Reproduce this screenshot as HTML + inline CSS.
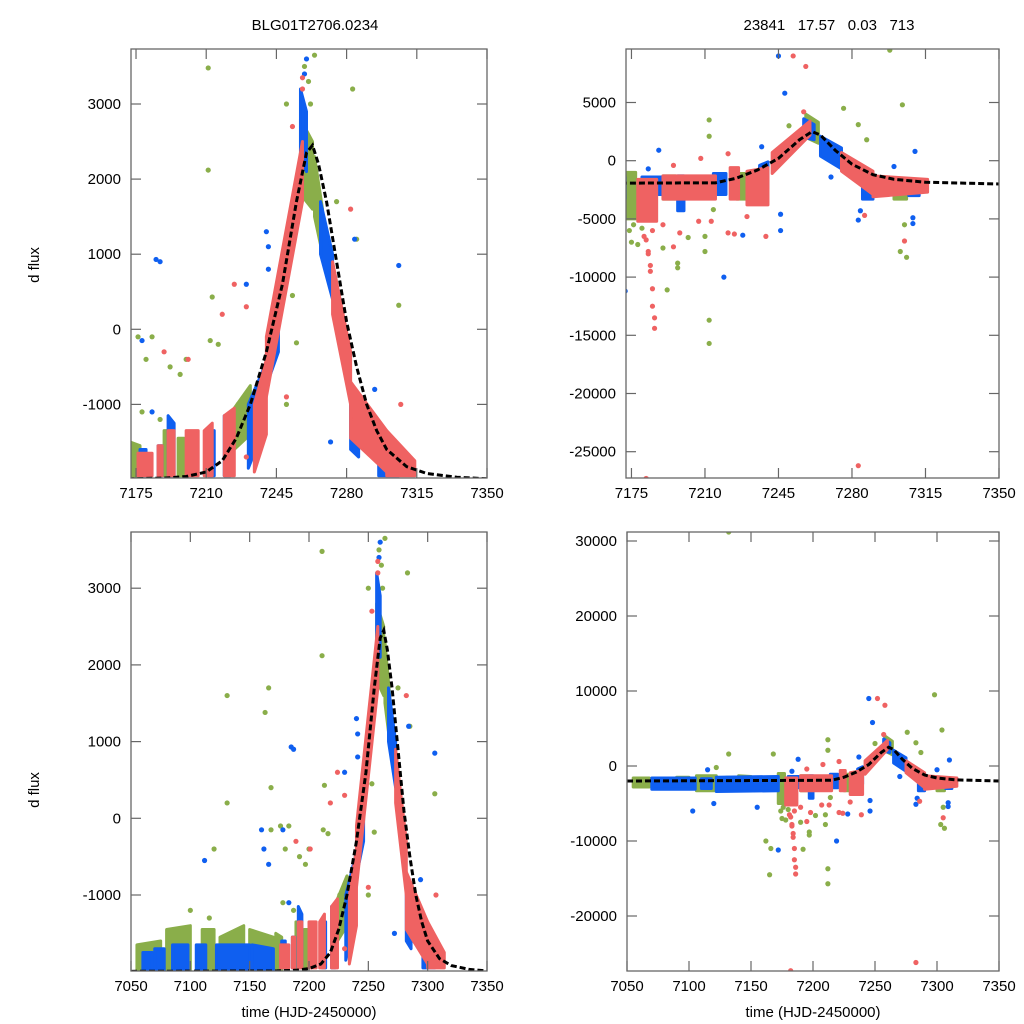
<!DOCTYPE html>
<html><head><meta charset="utf-8">
<style>
html,body{margin:0;padding:0;background:#fff;}
svg{display:block;font-family:"Liberation Sans",sans-serif;}
</style></head>
<body>
<svg id="fig" width="1024" height="1024" viewBox="0 0 1024 1024" xmlns="http://www.w3.org/2000/svg">
<rect width="1024" height="1024" fill="#fff"/>
<text x="315" y="30" font-size="15" text-anchor="middle">BLG01T2706.0234</text>
<text x="829" y="30" font-size="15" text-anchor="middle" xml:space="preserve">23841   17.57   0.03   713</text>
<text transform="translate(39,265) rotate(-90)" font-size="15" text-anchor="middle">d flux</text>
<text transform="translate(39,790) rotate(-90)" font-size="15" text-anchor="middle">d flux</text>
<text x="309" y="1017" font-size="15" text-anchor="middle">time (HJD-2450000)</text>
<text x="813" y="1017" font-size="15" text-anchor="middle">time (HJD-2450000)</text>
</svg>
<script>
// ---------- LEFT DATA (shared by both left panels) ----------
// bands: [t0, t1, lo0, hi0, lo1, hi1]
const leftGreenBands=[[7055,7075,-1990,-1650,-1990,-1600],[7080,7100,-1990,-1450,-1990,-1400],[7110,7120,-1990,-1450,-1990,-1450],[7125,7145,-1990,-1550,-1990,-1400],[7150,7170,-1990,-1450,-1990,-1550],[7172,7177,-1990,-1500,-1990,-1550],[7189,7192,-1950,-1350,-1950,-1350],[7196,7199,-1950,-1450,-1950,-1450],[7224,7232,-1600,-1050,-1400,-750],[7257,7263,1800,2800,1600,2500],[7264,7268,1500,2300,1000,1600]];
const leftBlueBands=[[7060,7068,-1990,-1750,-1990,-1750],[7070,7078,-1990,-1700,-1990,-1700],[7085,7098,-1990,-1650,-1990,-1650],[7105,7113,-1990,-1650,-1990,-1650],[7122,7150,-1990,-1650,-1990,-1650],[7152,7170,-1990,-1650,-1990,-1700],[7177,7180,-1950,-1600,-1950,-1600],[7186,7188,-1950,-1550,-1950,-1550],[7191,7194,-1950,-1150,-1950,-1250],[7211,7214,-1950,-1350,-1950,-1350],[7219,7222,-1950,-1150,-1950,-1250],[7231,7239,-1850,-1000,-1300,-500],[7242,7246,-600,-100,-300,300],[7257,7260,2300,3200,2100,2900],[7267,7273,1000,1700,400,1000],[7282,7286,-1600,-1000,-1700,-1100],[7296,7306,-1950,-1450,-1950,-1550]];
const leftRedBands=[[7176,7183,-1950,-1650,-1950,-1650],[7186,7188,-1950,-1550,-1950,-1550],[7191,7194,-1950,-1350,-1950,-1350],[7200,7206,-1950,-1350,-1950,-1350],[7209,7213,-1950,-1350,-1950,-1250],[7219,7224,-1950,-1150,-1950,-1050],[7234,7240,-1900,-1000,-1400,-400],[7240,7258,-900,-100,1700,2500],[7273,7282,200,900,-1000,-300],[7282,7300,-1450,-700,-1900,-1350],[7300,7314,-1950,-1350,-1950,-1750]];
const leftGreenDots=[[7211,3480],[7211,2120],[7264,3650],[7283,3200],[7250,3000],[7275,1700],[7285,1200],[7306,320],[7213,430],[7176,-100],[7183,-100],[7178,-1100],[7187,-1200],[7197,-600],[7200,-400],[7216,-200],[7226,-1000],[7253,450],[7131,-1550],[7166,1700],[7163,1380],[7131,1600],[7131,200],[7120,-400],[7116,-1300],[7100,-1200],[7168,-150],[7168,400],[7180,-400],[7192,-500],[7212,-150],[7250,-1000],[7255,-180],[7261,3300],[7262,3000],[7259,3500]];
const leftBlueDots=[[7185,930],[7178,-150],[7183,-1100],[7240,1300],[7241,1100],[7241,800],[7284,1200],[7306,850],[7294,-800],[7272,-1500],[7260,3600],[7160,-150],[7112,-550],[7162,-400],[7166,-600],[7187,900],[7287,-1400],[7230,600],[7259,3400]];
const leftRedDots=[[7224,600],[7218,200],[7230,300],[7189,-300],[7201,-400],[7282,1600],[7258,3350],[7284,-1200],[7307,-1000],[7250,-900],[7230,-1700],[7253,2700],[7258,3200]];
const leftModel=[[7050,-1995],[7173,-1990],[7190,-1980],[7200,-1960],[7210,-1900],[7218,-1750],[7225,-1450],[7232,-1000],[7240,-300],[7248,600],[7255,1700],[7260,2350],[7263,2450],[7266,2200],[7270,1700],[7275,900],[7280,100],[7285,-500],[7290,-1000],[7295,-1350],[7300,-1600],[7310,-1830],[7320,-1920],[7335,-1970],[7350,-1990]];
// ---------- RIGHT DATA (shared by both right panels) ----------
const rightGreenBands=[[7055,7068,-2800,-1600,-2800,-1600],[7090,7100,-2500,-1500,-2500,-1500],[7106,7122,-3300,-1300,-3300,-1300],[7130,7138,-2800,-1500,-2800,-1500],[7140,7150,-2900,-1300,-2900,-1400],[7172,7177,-5000,-1000,-5000,-1000],[7190,7196,-3300,-1300,-3300,-1300],[7225,7232,-3300,-1100,-3300,-1100],[7258,7264,2000,4000,1500,3300],[7300,7306,-3300,-1600,-3300,-1600]];
const rightBlueBands=[[7070,7105,-3100,-1600,-3100,-1600],[7110,7118,-3000,-1700,-3000,-1700],[7122,7172,-3400,-1500,-3300,-1400],[7180,7190,-2900,-1400,-2900,-1400],[7197,7200,-4300,-1300,-4300,-1300],[7214,7220,-2900,-1100,-2900,-1100],[7236,7240,-2400,-400,-2400,-100],[7257,7262,2000,3600,1800,3100],[7265,7275,400,2100,-700,1100],[7285,7290,-3300,-1600,-3300,-1600],[7307,7312,-3000,-1600,-3000,-1600]];
const rightRedBands=[[7178,7187,-5200,-1600,-5200,-1600],[7190,7215,-3300,-1300,-3300,-1300],[7222,7226,-3300,-600,-3300,-600],[7230,7240,-3800,-900,-3800,-600],[7242,7260,-1100,700,2200,3400],[7275,7290,-900,700,-2900,-900],[7290,7316,-3100,-1300,-2700,-1600]];
const rightGreenDots=[[7132,31200],[7298,9500],[7304,4800],[7276,4500],[7283,3100],[7287,1800],[7250,3000],[7212,3500],[7212,2100],[7168,1600],[7132,1600],[7122,-200],[7212,-13700],[7212,-15700],[7165,-14500],[7162,-10000],[7166,-11000],[7192,-11100],[7197,-8800],[7197,-9200],[7190,-7500],[7175,-7000],[7178,-7200],[7202,-6600],[7210,-7800],[7306,-8300],[7303,-7800],[7305,-5500],[7180,-5800],[7210,-6500],[7214,-4200],[7174,-6000],[7176,-5500]];
const rightBlueDots=[[7245,9000],[7248,5800],[7246,-4600],[7246,-6000],[7219,-10000],[7172,-11200],[7103,-6000],[7155,-5500],[7188,900],[7237,1200],[7300,-500],[7310,800],[7283,-5100],[7309,-5400],[7309,-4900],[7228,-6400],[7284,-4300],[7270,-1400],[7183,-700],[7120,-5000],[7115,-500]];
const rightRedDots=[[7182,-6800],[7183,-8000],[7184,-9500],[7185,-11000],[7185,-12500],[7186,-13500],[7186,-14400],[7183,-7800],[7184,-9000],[7181,-6500],[7185,-6000],[7182,-27300],[7283,-26200],[7252,9000],[7258,8100],[7257,4200],[7224,-6300],[7221,-6200],[7213,-5200],[7207,-5200],[7198,-6200],[7195,-7400],[7190,-5500],[7230,-4800],[7239,-6500],[7286,-4700],[7305,-6900],[7221,600],[7195,-400],[7208,200]];
const rightModel=[[7050,-2000],[7215,-1900],[7225,-1500],[7235,-800],[7245,200],[7255,1800],[7261,2500],[7265,2200],[7272,900],[7280,-300],[7290,-1200],[7300,-1600],[7315,-1850],[7350,-2000]];
// ---------- TICKS ----------
const xTicksTop=[7175,7210,7245,7280,7315,7350];
const xTicksBottom=[7050,7100,7150,7200,7250,7300,7350];
const yTicksTL=[-1000,0,1000,2000,3000];
const yTicksTR=[-25000,-20000,-15000,-10000,-5000,0,5000];
const yTicksBL=[-1000,0,1000,2000,3000];
const yTicksBR=[-20000,-10000,0,10000,20000,30000];

const NS='http://www.w3.org/2000/svg';
const svg=document.getElementById('fig');
const COL={g:'#8aae4a',b:'#0f5ff0',r:'#ef6262'};
function mk(tag,attrs,parent){const e=document.createElementNS(NS,tag);for(const k in attrs)e.setAttribute(k,attrs[k]);parent.appendChild(e);return e;}

const panels=[
 {id:'top-left',px0:131,px1:487,t0:7172.5,t1:7350,y0:329.3,k:0.0751,pyTop:49,pyBot:478,xt:xTicksTop,yt:yTicksTL,side:'left'},
 {id:'top-right',px0:626,px1:999,t0:7172.4,t1:7350,y0:160.7,k:0.01164,pyTop:49,pyBot:478,xt:xTicksTop,yt:yTicksTR,side:'right'},
 {id:'bottom-left',px0:131,px1:487,t0:7050,t1:7350,y0:818.3,k:0.0767,pyTop:532,pyBot:971,xt:xTicksBottom,yt:yTicksBL,side:'left'},
 {id:'bottom-right',px0:627,px1:999,t0:7050,t1:7350,y0:766,k:0.0075,pyTop:532,pyBot:971,xt:xTicksBottom,yt:yTicksBR,side:'right'}
];

panels.forEach(function(p){
  const xs=t=>p.px0+(t-p.t0)/(p.t1-p.t0)*(p.px1-p.px0);
  const ys=v=>p.y0-v*p.k;
  const g=mk('g',{},svg);
  
  
  const cp=mk('clipPath',{id:'clip-'+p.id},g);
  mk('rect',{x:p.px0,y:p.pyTop,width:p.px1-p.px0,height:p.pyBot-p.pyTop},cp);
  const plot=mk('g',{'clip-path':'url(#clip-'+p.id+')'},g);
  
  
  const isL=p.side==='left';
  const sets=[[isL?leftGreenBands:rightGreenBands,isL?leftGreenDots:rightGreenDots,'g','green'],
              [isL?leftBlueBands:rightBlueBands,isL?leftBlueDots:rightBlueDots,'b','blue'],
              [isL?leftRedBands:rightRedBands,isL?leftRedDots:rightRedDots,'r','red']];
  sets.forEach(function(s){
    s[0].forEach(function(b){
      const pts=[[xs(b[0]),ys(b[2])],[xs(b[1]),ys(b[4])],[xs(b[1]),ys(b[5])],[xs(b[0]),ys(b[3])]];
      const pg=mk('polygon',{points:pts.map(q=>q.join(',')).join(' '),fill:COL[s[2]],stroke:COL[s[2]],'stroke-width':3,'stroke-linejoin':'round'},plot);
      
      
    });
    s[1].forEach(function(d){
      const c=mk('circle',{cx:xs(d[0]),cy:ys(d[1]),r:2.6,fill:COL[s[2]]},plot);
      
      
    });
  });
  const model=isL?leftModel:rightModel;
  const ml=mk('polyline',{points:model.map(m=>xs(m[0])+','+ys(m[1])).join(' '),fill:'none',stroke:'#000','stroke-width':3,'stroke-dasharray':'6,3'},plot);
  
  
  const fr=mk('rect',{x:p.px0,y:p.pyTop,width:p.px1-p.px0,height:p.pyBot-p.pyTop,fill:'none',stroke:'#666','stroke-width':1.3},g);
  
  
  p.xt.forEach(function(t){
    const x=xs(t);
    mk('line',{x1:x,y1:p.pyBot,x2:x,y2:p.pyBot-10,stroke:'#666','stroke-width':1.2},g);
    mk('line',{x1:x,y1:p.pyTop,x2:x,y2:p.pyTop+10,stroke:'#666','stroke-width':1.2},g);
    const tx=mk('text',{x:x,y:p.pyBot+20,'font-size':15,'text-anchor':'middle'},g);
    tx.textContent=t;
    
    
  });
  p.yt.forEach(function(v){
    const y=ys(v);
    mk('line',{x1:p.px0,y1:y,x2:p.px0+10,y2:y,stroke:'#666','stroke-width':1.2},g);
    mk('line',{x1:p.px1,y1:y,x2:p.px1-10,y2:y,stroke:'#666','stroke-width':1.2},g);
    const tx=mk('text',{x:p.px0-10,y:y+5,'font-size':15,'text-anchor':'end'},g);
    tx.textContent=v;
    
    
  });
});
</script>
</body></html>
